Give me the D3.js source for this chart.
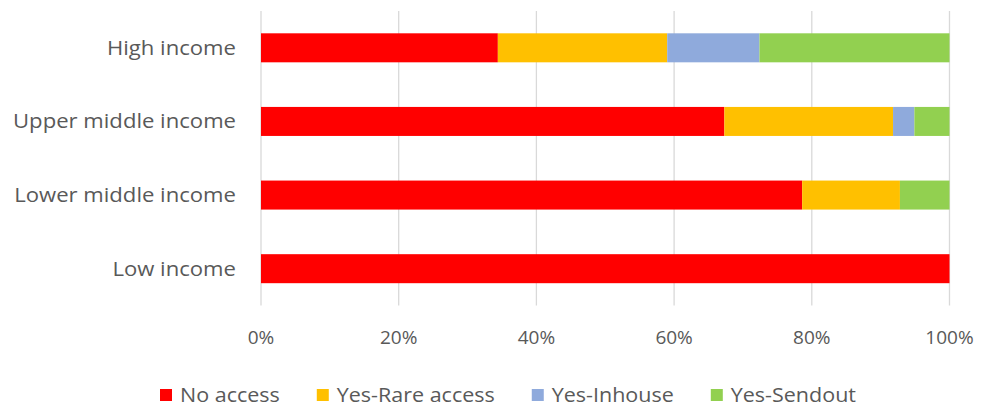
<!DOCTYPE html>
<html>
<head>
<meta charset="utf-8">
<script src="https://cdn.jsdelivr.net/npm/d3@7"></script>
<style>
  html, body { margin: 0; padding: 0; background: #fff; }
  svg { display: block; }
  text { font-family: "Open Sans", "Liberation Sans", sans-serif; fill: #595959; }
</style>
</head>
<body>
<svg id="chart" width="987" height="412"></svg>
<script>
// Income groups, top to bottom
const categories = ["High income", "Upper middle income", "Lower middle income", "Low income"];
// Series shares (%) per income group
const series = ["No access", "Yes-Rare access", "Yes-Inhouse", "Yes-Sendout"];
const noAccess   = [34.4, 67.3, 78.6, 100];
const rareAccess = [24.6, 24.5, 14.2, 0];
const inhouse    = [13.4, 3.1, 0, 0];
const sendout    = [27.6, 5.1, 7.2, 0];
const tickValues = [0, 20, 40, 60, 80, 100];
const colors = ["#FF0000", "#FFC000", "#8FAADC", "#92D050"];

const rows = categories.map((c, i) => ({
  category: c,
  "No access": noAccess[i],
  "Yes-Rare access": rareAccess[i],
  "Yes-Inhouse": inhouse[i],
  "Yes-Sendout": sendout[i]
}));

const svg = d3.select("#chart");
const labelSize = 20;
const tickSize = 19;

const x = d3.scaleLinear().domain([0, 100]).range([261, 949.5]);
const y = d3.scaleBand().domain(categories).range([11, 305.5])
  .paddingInner(0.606).paddingOuter(0.303);
const color = d3.scaleOrdinal().domain(series).range(colors);

// Vertical gridlines
svg.append("g").selectAll("line").data(tickValues).join("line")
  .attr("x1", d => x(d)).attr("x2", d => x(d))
  .attr("y1", y.range()[0]).attr("y2", y.range()[1])
  .attr("stroke", "#D9D9D9").attr("stroke-width", 1.3);

// Stacked bars
const stacked = d3.stack().keys(series)(rows);
svg.append("g").selectAll("g").data(stacked).join("g")
  .attr("fill", d => color(d.key))
  .selectAll("rect").data(d => d).join("rect")
  .attr("x", d => x(d[0]))
  .attr("width", d => x(d[1]) - x(d[0]))
  .attr("y", d => y(d.data.category))
  .attr("height", y.bandwidth());

// Category labels, widened slightly so the longest one spans the left margin
const catLabels = svg.append("g").selectAll("text").data(categories).join("text")
  .attr("x", 236)
  .attr("y", d => y(d) + y.bandwidth() / 2)
  .attr("dy", "0.35em")
  .attr("text-anchor", "end")
  .style("font-size", labelSize + "px")
  .text(d => d);
const longest = d3.max(catLabels.nodes(), n => n.getComputedTextLength());
const stretch = 223 / longest;
catLabels.each(function () {
  const w = this.getComputedTextLength();
  d3.select(this).attr("textLength", w * stretch).attr("lengthAdjust", "spacingAndGlyphs");
});

// Percent axis labels
svg.append("g").selectAll("text").data(tickValues).join("text")
  .attr("x", d => x(d))
  .attr("y", 337)
  .attr("dy", "0.35em")
  .attr("text-anchor", "middle")
  .style("font-size", tickSize + "px")
  .text(d => d + "%");

// Legend: swatch, label, then a fixed gap; the row runs from x=160 to x=856
const legendLeft = 160, legendRight = 856, swatchGap = 20, itemGap = 37;
const legend = svg.append("g");
const items = series.map((s, i) => {
  const t = legend.append("text")
    .attr("y", 395).attr("dy", "0.35em")
    .style("font-size", labelSize + "px")
    .text(s);
  return { t, w: t.node().getComputedTextLength(), i };
});
const rawText = d3.sum(items, d => d.w);
const fixed = series.length * swatchGap + (series.length - 1) * itemGap;
const legendStretch = (legendRight - legendLeft - fixed) / rawText;
let lx = legendLeft;
items.forEach(({ t, w, i }) => {
  legend.append("rect")
    .attr("x", lx).attr("y", 389).attr("width", 12).attr("height", 12)
    .attr("fill", colors[i]);
  const sw = w * legendStretch;
  t.attr("x", lx + swatchGap).attr("textLength", sw).attr("lengthAdjust", "spacingAndGlyphs");
  lx += swatchGap + sw + itemGap;
});
</script>
</body>
</html>
